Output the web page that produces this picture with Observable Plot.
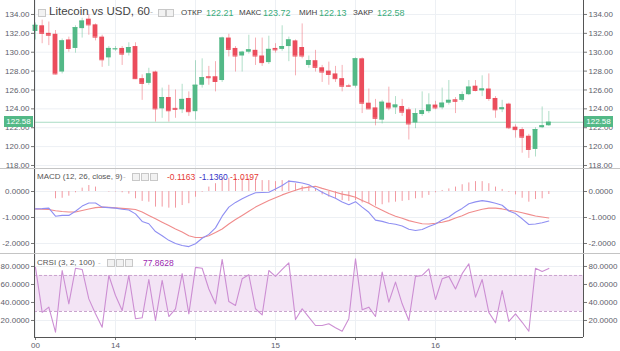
<!DOCTYPE html>
<html><head><meta charset="utf-8">
<script src="https://cdn.jsdelivr.net/npm/d3@7"></script>
<script src="https://cdn.jsdelivr.net/npm/@observablehq/plot@0.6"></script>
<style>
body{margin:0;background:#fff;font-family:"Liberation Sans",Arial,sans-serif;}
#wrap{position:relative;width:620px;height:351px;overflow:hidden;background:#fff}
.pane{position:absolute;left:0;overflow:visible}
.lg{position:absolute;white-space:nowrap;font-size:8.5px;color:#555;line-height:10px}
.ic{position:absolute;width:6px;height:6px;border:1px solid #c8c8c8;background:#f2f2f2}
.sep{position:absolute;left:0;width:620px;height:1px;background:#c4c4c4}
.pl{position:absolute;height:11px;background:#53b987;color:#fff;font-size:8px;line-height:11px;text-align:center}
</style></head>
<body><div id="wrap"></div>
<script>
// ---- data (hourly candles, 13th 12:00 -> 16th 17:00) ----
const open  = [132.2,132.8,132.0,131.9,127.9,131.3,130.4,132.5,133.5,132.9,131.6,129.4,130.3,130.4,129.9,130.6,127.2,126.7,127.9,124.0,125.2,124.05,123.9,125.1,123.7,126.5,127.4,127.4,127.0,131.5,130.4,129.6,130.0,130.2,129.6,128.9,130.4,130.3,130.6,131.2,130.5,128.6,129.1,128.35,128.0,127.7,127.2,126.45,126.4,129.3,124.6,124.1,122.8,124.6,124.1,124.25,123.9,122.5,123.4,123.7,124.4,124.1,124.6,124.96,124.9,125.5,126.4,125.9,126.1,125.1,123.9,124.5,122.06,121.8,121.1,119.7,122.0,122.21];
const high  = [133.1,133.4,133.2,132.3,131.4,131.6,132.8,133.6,134.0,133.0,131.8,130.6,130.6,130.6,131.0,131.0,127.6,128.3,128.0,126.2,126.5,126.0,126.6,125.8,129.1,129.3,128.5,129.0,131.6,131.9,130.6,130.1,131.8,131.5,131.5,131.7,130.9,132.8,131.6,131.3,133.0,129.6,130.2,128.6,128.95,128.5,128.6,126.6,129.4,129.4,126.1,125.0,124.9,126.3,125.3,125.0,124.1,124.0,125.8,125.6,124.8,126.2,127.0,125.2,125.8,127.0,127.0,127.5,127.7,125.3,124.9,124.6,122.3,122.0,121.3,122.0,124.2,123.72];
const low   = [131.3,130.9,130.7,127.6,127.7,130.0,129.9,131.5,131.8,131.2,128.4,128.5,130.1,128.6,129.6,127.1,124.9,126.5,122.6,123.0,122.6,123.0,123.5,123.2,122.8,126.2,126.5,125.8,126.8,129.5,127.9,127.9,129.8,128.6,128.5,128.7,129.9,130.1,129.0,127.5,129.3,128.3,127.9,126.8,126.5,126.8,125.8,126.3,126.2,123.5,124.0,122.2,122.4,123.8,123.4,123.2,120.7,121.9,123.2,123.5,123.9,123.9,124.4,123.5,124.7,125.4,125.8,125.3,124.8,123.0,123.6,121.8,120.9,119.3,118.75,118.9,121.9,122.13];
const close = [132.85,132.0,131.8,127.7,131.2,130.4,132.6,133.3,132.9,131.6,129.2,130.4,130.35,129.8,130.5,127.2,126.7,127.7,124.0,125.2,123.8,123.95,125.0,123.7,126.5,127.3,127.3,126.9,131.5,130.3,129.6,130.0,130.25,129.6,128.9,130.3,130.25,130.6,131.3,129.6,129.6,129.1,128.4,127.9,127.65,127.2,126.4,126.4,129.3,124.6,124.0,123.0,124.7,124.1,124.4,123.65,122.4,123.5,123.8,124.4,124.1,124.6,124.9,124.8,125.5,126.3,125.95,126.1,125.1,123.9,124.1,122.0,121.8,121.0,119.7,121.8,122.2,122.58];
const macd  = [-0.67,-0.66,-0.64,-0.95,-0.92,-0.92,-0.76,-0.56,-0.44,-0.44,-0.6,-0.62,-0.64,-0.68,-0.71,-0.86,-1.15,-1.24,-1.54,-1.7,-1.88,-2.0,-2.08,-2.12,-2.01,-1.8,-1.65,-1.4,-0.95,-0.6,-0.42,-0.28,-0.15,-0.05,-0.04,-0.03,0.1,0.23,0.4,0.37,0.33,0.26,0.12,-0.03,-0.15,-0.26,-0.4,-0.51,-0.39,-0.6,-0.8,-1.1,-1.15,-1.22,-1.26,-1.33,-1.45,-1.5,-1.46,-1.35,-1.25,-1.1,-0.98,-0.8,-0.65,-0.47,-0.4,-0.35,-0.39,-0.45,-0.53,-0.75,-0.85,-1.05,-1.27,-1.25,-1.2,-1.136];
const signal= [-0.67,-0.68,-0.69,-0.74,-0.77,-0.79,-0.79,-0.73,-0.67,-0.62,-0.6,-0.61,-0.63,-0.65,-0.67,-0.69,-0.79,-0.92,-1.05,-1.18,-1.31,-1.44,-1.56,-1.7,-1.77,-1.77,-1.7,-1.58,-1.44,-1.25,-1.08,-0.92,-0.76,-0.6,-0.47,-0.35,-0.24,-0.13,-0.04,0.05,0.13,0.17,0.2,0.12,0.05,-0.03,-0.1,-0.15,-0.22,-0.35,-0.45,-0.6,-0.72,-0.85,-0.95,-1.03,-1.12,-1.18,-1.24,-1.25,-1.22,-1.18,-1.12,-1.02,-0.93,-0.82,-0.75,-0.68,-0.64,-0.64,-0.67,-0.72,-0.76,-0.82,-0.88,-0.94,-0.98,-1.0197];
const hist  = [0,0,0,-0.28,-0.26,-0.18,-0.05,0.13,0.23,0.17,0.0,-0.02,-0.02,-0.05,-0.1,-0.28,-0.38,-0.41,-0.6,-0.6,-0.64,-0.64,-0.54,-0.47,-0.22,-0.03,0.17,0.3,0.49,0.51,0.51,0.51,0.49,0.46,0.42,0.42,0.38,0.42,0.42,0.3,0.2,0.2,0.1,-0.13,-0.22,-0.28,-0.35,-0.38,-0.35,-0.44,-0.47,-0.56,-0.51,-0.44,-0.41,-0.38,-0.35,-0.28,-0.26,-0.15,-0.05,0.04,0.1,0.17,0.26,0.33,0.38,0.38,0.3,0.17,0.08,-0.03,-0.13,-0.26,-0.41,-0.31,-0.28,-0.1163];
const crsi  = [79,29,34.8,7,75.5,38.5,78,76.7,44,27.4,12.6,70,47.8,31,70,22,23,65.5,20,64.5,24.4,33,72,27.4,79,78,55,38.5,87.8,41,36.7,66.3,70.8,33,26.3,75.5,69,76.7,84,21,33,23.7,14.4,14.4,16.3,12,8,22,88.5,32,34.8,24.4,73.7,40.4,62.6,38.5,20,69,70,77.4,43.3,66.3,69,55,72,83,45.9,65.5,29,17.4,53.3,19,27.4,18,8,78,74.5,77.8628];
const xTickIdx    = [1,13,25,37,49,61,73];
const xTickLabels = ["00","14","","15","","16",""];
const priceTicks = [118,120,122,124,126,128,130,132,134];
const macdTicks  = [0,-1,-2];
const crsiTicks  = [20,40,60,80];
const lastPrice = 122.58;

const GREEN="#53b987", RED="#eb4d5c";
const idx = d3.range(1, close.length+1);
const candles = idx.map((t,k)=>({t,o:open[k],h:high[k],l:low[k],c:close[k],col:close[k]>=open[k]?GREEN:RED}));
const XD=[0.85,83.2];
const font='"Liberation Sans",Arial,sans-serif';
const base = {width:620, marginLeft:34, marginRight:37, x:{domain:XD, axis:null}, color:{type:"identity"},
  style:{background:"transparent", fontSize:"8px", color:"#5d606b", fontFamily:font, overflow:"visible"}};
const gridC="#edf0f4", axC="#555";
const hy = s => s.replace("\u2212","-");
const f2=d=>hy(d3.format(".2f")(d)), f4=d=>hy(d3.format(".4f")(d));

const wrap=document.getElementById("wrap");
function place(svg, top){ svg.classList.add("pane"); svg.style.top=top+"px"; wrap.appendChild(svg); return svg; }

// main pane
const main = Plot.plot({...base, height:168, marginTop:0, marginBottom:0,
  y:{domain:[117.68,135.48], axis:null},
  marks:[
    Plot.gridY(priceTicks,{stroke:gridC, strokeOpacity:1}),
    Plot.gridX(xTickIdx,{stroke:gridC, strokeOpacity:1}),
    Plot.axisY(priceTicks,{anchor:"left", label:null, tickSize:3, tickPadding:2, tickFormat:f2, stroke:"#777"}),
    Plot.axisY(priceTicks,{anchor:"right", label:null, tickSize:3, tickPadding:2, tickFormat:f2, stroke:"#777"}),
    Plot.ruleY([lastPrice],{stroke:"#a9dcc4"}),
    Plot.ruleX(candles,{x:"t", y1:"l", y2:"h", stroke:"col", strokeOpacity:0.45}),
    Plot.rect(candles,{x1:d=>d.t-0.36, x2:d=>d.t+0.36, y1:"o", y2:"c", fill:"col"}),
    Plot.ruleY(candles,{x1:d=>d.t-0.36, x2:d=>d.t+0.36, y:"c", stroke:"col"}),
    Plot.ruleX([XD[0],XD[1]],{stroke:axC})
  ]});
place(main,0);

// MACD pane
const macdData = idx.map((t,k)=>({t,m:macd[k],s:signal[k],h:hist[k]}));
const mp = Plot.plot({...base, height:85, marginTop:0, marginBottom:0,
  y:{domain:[-2.385,0.885], axis:null},
  marks:[
    Plot.gridY(macdTicks,{stroke:gridC, strokeOpacity:1}),
    Plot.gridX(xTickIdx,{stroke:gridC, strokeOpacity:1}),
    Plot.axisY(macdTicks,{anchor:"left", label:null, tickSize:3, tickPadding:2, tickFormat:f4, stroke:"#777"}),
    Plot.axisY(macdTicks,{anchor:"right", label:null, tickSize:3, tickPadding:2, tickFormat:f4, stroke:"#777"}),
    Plot.ruleX(macdData,{x:"t", y1:0, y2:"h", stroke:"#f29aa2", strokeWidth:1}),
    Plot.line(macdData,{x:"t", y:"s", stroke:"#f08c8c", strokeWidth:1.1}),
    Plot.line(macdData,{x:"t", y:"m", stroke:"#8f8ff2", strokeWidth:1.1}),
    Plot.ruleX([XD[0],XD[1]],{stroke:axC})
  ]});
place(mp,168);

// CRSI pane
const crsiData = idx.map((t,k)=>({t,v:crsi[k]}));
const cp = Plot.plot({...base, height:98, marginTop:0, marginBottom:14,
  y:{domain:[1.1,94.4], axis:null},
  marks:[
    Plot.gridY(crsiTicks,{stroke:gridC, strokeOpacity:1}),
    Plot.gridX(xTickIdx,{stroke:gridC, strokeOpacity:1}),
    Plot.rect([{a:XD[0],b:XD[1]}],{x1:"a", x2:"b", y1:30, y2:70, fill:"#f3e4f5"}),
    Plot.ruleY([30,70],{stroke:"#c9a2cd", strokeDasharray:"3,2"}),
    Plot.axisY(crsiTicks,{anchor:"left", label:null, tickSize:3, tickPadding:2, tickFormat:f4, stroke:"#777"}),
    Plot.axisY(crsiTicks,{anchor:"right", label:null, tickSize:3, tickPadding:2, tickFormat:f4, stroke:"#777"}),
    Plot.line(crsiData,{x:"t", y:"v", stroke:"#cc8ed3", strokeWidth:1.1}),
    Plot.axisX(xTickIdx,{anchor:"bottom", label:null, tickSize:3, tickPadding:2, tickFormat:(d,i)=>xTickLabels[i], stroke:"#777", fontSize:"8px"}),
    Plot.ruleX([XD[0],XD[1]],{stroke:axC}),
    Plot.ruleY([1.1],{stroke:axC})
  ]});
place(cp,253);

// separators
[168,253].forEach(y=>{const d=document.createElement("div");d.className="sep";d.style.top=y+"px";wrap.appendChild(d);});

// price labels
const yS = main.scale("y");
const py = yS.apply(lastPrice);
[[4,29],[584,29]].forEach(([l,w])=>{const d=document.createElement("div");d.className="pl";d.style.left=l+"px";d.style.width=w+"px";d.style.top=(py-5.5)+"px";d.textContent=f2(lastPrice);wrap.appendChild(d);});

// legends
function txt(x,y,s,color,size){const d=document.createElement("div");d.className="lg";d.style.left=x+"px";d.style.top=y+"px";d.textContent=s;if(color)d.style.color=color;if(size)d.style.fontSize=size+"px";wrap.appendChild(d);return d;}
function icon(x,y){const d=document.createElement("div");d.className="ic";d.style.left=x+"px";d.style.top=y+"px";wrap.appendChild(d);}
icon(38,9);
txt(49,6,"Litecoin vs USD, 60","#444",11.5);
txt(150,7,"-","#bbb",9);
icon(158,9);icon(166,9);
const G="#3aab7b";
const n=close.length-1;
const ohlc=[["ОТКР",181,206,open[n]],["МАКС",239,263,high[n]],["МИН",299,319,low[n]],["ЗАКР",353,377,close[n]]];
ohlc.forEach(([lab,x,xv,v])=>{txt(x,8,lab,"#444",8);txt(xv,8,f2(v),G,9);});
txt(37,172,"MACD (12, 26, close, 9)","#555",8);
txt(123,172,"-","#bbb",8);
icon(132,173);icon(141,173);icon(150,173);
txt(167,172,f4(hist[n]),"#e53935",8.5);
txt(199,172,f4(macd[n]),"#3535c8",8.5);
txt(230,172,f4(signal[n]),"#e53935",8.5);
txt(37,258,"CRSI (3, 2, 100)","#555",8);
txt(98,258,"-","#bbb",8);
icon(107,259);icon(116,259);icon(125,259);
txt(143,258,f4(crsi[n]),"#9c27b0",8.5);
</script></body></html>
